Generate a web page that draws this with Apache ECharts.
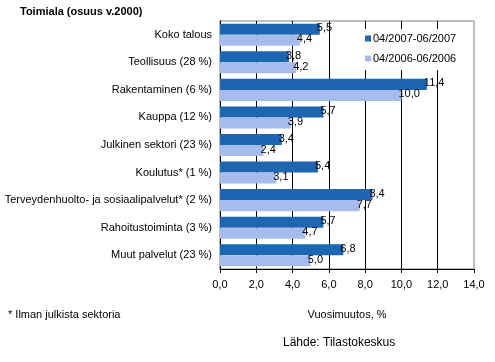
<!DOCTYPE html>
<html><head><meta charset="utf-8">
<script src="https://cdn.jsdelivr.net/npm/echarts@6/dist/echarts.min.js"></script>
<style>html,body{margin:0;padding:0;background:#fff}#c{width:495px;height:362px}</style>
</head><body><div id="c"></div>
<script>
var categories = ["Koko talous","Teollisuus (28 %)","Rakentaminen (6 %)","Kauppa (12 %)","Julkinen sektori (23 %)","Koulutus* (1 %)","Terveydenhuolto- ja sosiaalipalvelut* (2 %)","Rahoitustoiminta (3 %)","Muut palvelut (23 %)"];
var series2007 = [5.5,3.8,11.4,5.7,3.4,5.4,8.4,5.7,6.8];
var series2006 = [4.4,4.2,10.0,3.9,2.4,3.1,7.7,4.7,5.0];
var seriesNames = ["04/2007-06/2007","04/2006-06/2006"];
var FONT = "Liberation Sans";
function fmt(v){ return v.toFixed(1).replace('.', ','); }
var chart = echarts.init(document.getElementById('c'));
var lbl = {show:true, position:'right', distance:0, offset:[-3,-1], color:'#000', fontFamily:FONT, fontSize:11,
  formatter:function(p){return fmt(p.value);}};
chart.setOption({
  animation:false,
  textStyle:{fontFamily:FONT},
  grid:{left:220, right:21, top:21, bottom:93, show:true, borderColor:'#808080', borderWidth:1, backgroundColor:'transparent'},
  legend:{orient:'vertical', left:362, top:29, data:seriesNames, icon:'rect', itemWidth:6, itemHeight:6, itemGap:9,
    backgroundColor:'#fff', padding:[4,6,6,3], textStyle:{fontFamily:FONT, fontSize:11, color:'#000', padding:[0,0,0,-3]}},
  xAxis:{type:'value', min:0, max:14, interval:2,
    name:'Vuosimuutos, %', nameLocation:'middle', nameGap:40, nameTextStyle:{fontFamily:FONT, fontSize:11, color:'#000'},
    axisLine:{show:true, lineStyle:{color:'#000'}},
    axisTick:{show:true, length:4, lineStyle:{color:'#000'}},
    axisLabel:{color:'#000', fontFamily:FONT, fontSize:11, margin:10, formatter:function(v){return fmt(v);}},
    splitLine:{show:true, showMinLine:false, showMaxLine:false, lineStyle:{color:'#000', width:1}}},
  yAxis:{type:'category', data:categories, inverse:true,
    axisLine:{show:true, lineStyle:{color:'#000'}},
    axisTick:{show:false},
    axisLabel:{color:'#000', fontFamily:FONT, fontSize:11, margin:8}},
  series:[
    {name:seriesNames[0], type:'bar', data:series2007, itemStyle:{color:'#1d66b1'}, barCategoryGap:'20%', barGap:'0%', label:lbl, z:3},
    {name:seriesNames[1], type:'bar', data:series2006, itemStyle:{color:'#a6bcec'}, barCategoryGap:'20%', barGap:'0%', label:lbl, z:3}
  ],
  graphic:[
    {type:'text', left:20, top:6, style:{text:'Toimiala (osuus v.2000)', font:'bold 11px "Liberation Sans"', fill:'#000'}},
    {type:'text', left:8, top:309, style:{text:'* Ilman julkista sektoria', font:'11px "Liberation Sans"', fill:'#000'}},
    {type:'text', left:283, top:337, style:{text:'Lähde: Tilastokeskus', font:'12px "Liberation Sans"', fill:'#000'}}
  ]
});
</script></body></html>
